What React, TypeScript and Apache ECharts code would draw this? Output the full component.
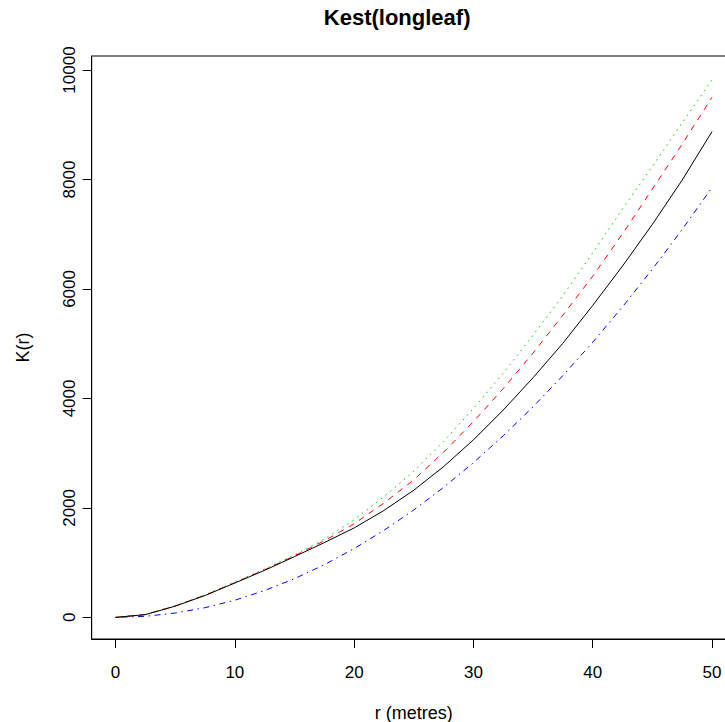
import React, { useEffect, useRef } from "react";
import * as echarts from "echarts";

const rValues = [0, 2.5, 5, 7.5, 10, 12.5, 15, 17.5, 20, 22.5, 25, 27.5, 30, 32.5, 35, 37.5, 40, 42.5, 45, 47.5, 50];
const isoK = [0, 50, 205, 400, 628, 860, 1110, 1366, 1634, 1954, 2324, 2754, 3244, 3789, 4379, 5009, 5700, 6420, 7180, 7990, 8875];
const transK = [0, 52, 208, 405, 635, 870, 1125, 1400, 1710, 2090, 2513, 3018, 3576, 4181, 4829, 5523, 6233, 7009, 7825, 8647, 9503];
const borderK = [0, 55, 212, 412, 645, 885, 1140, 1430, 1785, 2205, 2670, 3219, 3816, 4463, 5156, 5876, 6661, 7463, 8239, 9037, 9818];
const theoK = [0, 20, 79, 177, 314, 491, 707, 962, 1257, 1590, 1963, 2376, 2827, 3318, 3848, 4418, 5027, 5675, 6362, 7088, 7854];
const xTicks = [0, 10, 20, 30, 40, 50];
const yTicks = [0, 2000, 4000, 6000, 8000, 10000];

const FONT = "'Liberation Sans', Arial, sans-serif";

export default function App() {
  const ref = useRef<HTMLDivElement>(null);
  useEffect(() => {
    const chart = echarts.init(ref.current as HTMLDivElement, null, { renderer: "svg" });
    const pair = (ys: number[]) => rValues.map((r, i) => [r, ys[i]]);
    const lineSeries = (name: string, ys: number[], color: string, type: any, z: number) => ({
      name,
      type: "line",
      data: pair(ys),
      showSymbol: false,
      smooth: false,
      z,
      lineStyle: { color, width: 1, type },
    });
    chart.setOption({
      animation: false,
      backgroundColor: "#ffffff",
      textStyle: { fontFamily: FONT },
      graphic: [
        {
          type: "text",
          left: 413.8 - 90,
          top: 6,
          style: { text: "Kest(longleaf)", fontFamily: FONT, fontSize: 22, fontWeight: "bold", fill: "#000", width: 180, align: "center" },
        },
      ],
      grid: {
        left: 91.7, top: 56, right: 4.1, bottom: 83,
        containLabel: false, outerBoundsMode: "none",
        show: true, borderColor: "#000", borderWidth: 1, backgroundColor: "transparent",
      },
      xAxis: {
        type: "value",
        min: -2,
        max: 52,
        name: "r (metres)",
        nameLocation: "middle",
        nameGap: 65,
        nameTextStyle: { fontSize: 18, color: "#000", fontFamily: FONT },
        axisLine: { show: true, onZero: false, lineStyle: { color: "#000", width: 1 } },
        axisTick: { show: true, length: 9, customValues: xTicks, lineStyle: { color: "#000", width: 1 } },
        axisLabel: { customValues: xTicks, fontSize: 17, color: "#000", margin: 25, fontFamily: FONT, formatter: (v: number) => String(v) },
        splitLine: { show: false },
      },
      yAxis: {
        type: "value",
        min: -395,
        max: 10256,
        name: "K(r)",
        nameLocation: "middle",
        nameGap: 60,
        nameRotate: 90,
        nameTextStyle: { fontSize: 18, color: "#000", fontFamily: FONT },
        axisLine: { show: true, onZero: false, lineStyle: { color: "#000", width: 1 } },
        axisTick: { show: true, length: 9, customValues: yTicks, lineStyle: { color: "#000", width: 1 } },
        axisLabel: { customValues: yTicks, fontSize: 17, color: "#000", margin: 14, rotate: 90, fontFamily: FONT, formatter: (v: number) => String(v) },
        splitLine: { show: false },
      },
      series: [
        lineSeries("theo", theoK, "#0000FF", [1.5, 4.5, 6, 4.5], 2),
        lineSeries("border", borderK, "#00CD00", [1.5, 4.5], 3),
        lineSeries("trans", transK, "#FF0000", [6, 6], 4),
        lineSeries("iso", isoK, "#000000", "solid", 5),
      ],
    });
    return () => chart.dispose();
  }, []);
  return (
    <div style={{ position: "fixed", left: 0, top: 0, width: 725, height: 722, overflow: "hidden", background: "#fff" }}>
      <div ref={ref} style={{ width: 740, height: 722 }} />
    </div>
  );
}
